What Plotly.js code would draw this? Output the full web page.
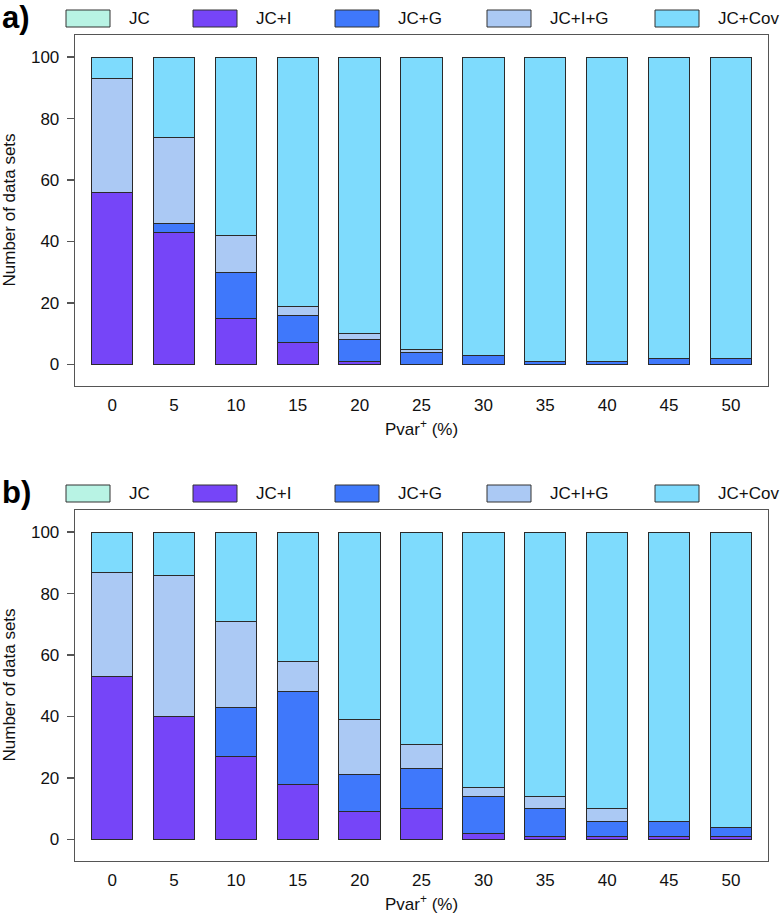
<!DOCTYPE html>
<html>
<head>
<meta charset="utf-8">
<script src="https://cdn.plot.ly/plotly-3.0.1.min.js"></script>
<style>html,body{margin:0;padding:0;background:#fff;}#chart{width:780px;height:917px;}</style>
</head>
<body>
<div id="chart"></div>
<script>
// ---------- data ----------
const categories = ['0','5','10','15','20','25','30','35','40','45','50'];
const seriesNames = ['JC','JC+I','JC+G','JC+I+G','JC+Cov'];
const seriesColors = ['#b8f3e4','#7645f8','#3f78fb','#abc9f4','#7edbfd'];

// panel a
const a_JC     = [0,0,0,0,0,0,0,0,0,0,0];
const a_JCI    = [56,43,15,7,1,0,0,0,0,0,0];
const a_JCG    = [0,3,15,9,7,4,3,1,1,2,2];
const a_JCIG   = [37,28,12,3,2,1,0,0,0,0,0];
const a_JCCov  = [7,26,58,81,90,95,97,99,99,98,98];

// panel b
const b_JC     = [0,0,0,0,0,0,0,0,0,0,0];
const b_JCI    = [53,40,27,18,9,10,2,1,1,1,1];
const b_JCG    = [0,0,16,30,12,13,12,9,5,5,3];
const b_JCIG   = [34,46,28,10,18,8,3,4,4,0,0];
const b_JCCov  = [13,14,29,42,61,69,83,86,90,94,96];

const yTickVals = [0,20,40,60,80,100];
const xTitle = 'Pvar<sup>+</sup> (%)';
const yTitle = 'Number of data sets';
const panelLabels = ['a)','b)'];

// ---------- layout constants ----------
const W = 780, H = 917;
const FONT = 'Liberation Sans, Arial, Helvetica, sans-serif';
const px = v => v / W;
const py = v => 1 - v / H;
const legendBoxX = [66,193,335,487,655];
const legendBoxW = 44;
const legendTextOffset = 61;
const legendTop = [10, 485];
const legendBoxH = 17;
const panelLabelY = [18, 492];
const boxTop = [35, 510];
const boxBottom = [386, 861];
const boxLeft = 75, boxRight = 768;

const panelA = [a_JC, a_JCI, a_JCG, a_JCIG, a_JCCov];
const panelB = [b_JC, b_JCI, b_JCG, b_JCIG, b_JCCov];

const traces = [];
[panelA, panelB].forEach((panel, pi) => {
  panel.forEach((vals, si) => {
    traces.push({
      type: 'bar',
      x: categories,
      y: vals,
      name: seriesNames[si],
      xaxis: pi === 0 ? 'x' : 'x2',
      yaxis: pi === 0 ? 'y' : 'y2',
      marker: {color: seriesColors[si], line: {color: '#2a2a2a', width: 1}},
      showlegend: false,
      hoverinfo: 'x+y+name'
    });
  });
});

const xaxisBase = {
  type: 'category',
  range: [-0.6, 10.6],
  domain: [px(boxLeft), px(boxRight)],
  showline: true, mirror: true, linecolor: '#555', linewidth: 1.3,
  ticks: '', showgrid: false, zeroline: false,
  tickfont: {family: FONT, size: 17, color: '#111'},
  ticklabelstandoff: 3,
  fixedrange: true
};
const yaxisBase = {
  range: [-7, 107.2],
  tickvals: yTickVals,
  showline: true, mirror: true, linecolor: '#555', linewidth: 1.3,
  ticks: 'outside', ticklen: 7, tickcolor: '#555', tickwidth: 1.3,
  showgrid: false, zeroline: false,
  tickfont: {family: FONT, size: 17, color: '#111'},
  ticklabelstandoff: 4,
  fixedrange: true
};

const shapes = [];
const annotations = [];
[0,1].forEach(pi => {
  seriesNames.forEach((nm, si) => {
    shapes.push({
      type: 'rect', xref: 'paper', yref: 'paper',
      x0: px(legendBoxX[si]), x1: px(legendBoxX[si] + legendBoxW),
      y0: py(legendTop[pi] + legendBoxH), y1: py(legendTop[pi]),
      fillcolor: seriesColors[si], line: {color: '#333', width: 1}
    });
    annotations.push({
      xref: 'paper', yref: 'paper',
      x: px(legendBoxX[si] + legendTextOffset), y: py(legendTop[pi] + legendBoxH / 2),
      xanchor: 'left', yanchor: 'middle', showarrow: false,
      text: nm, font: {family: FONT, size: 17, color: '#111'}
    });
  });
  annotations.push({
    xref: 'paper', yref: 'paper',
    x: px(0), y: py(panelLabelY[pi]),
    xanchor: 'left', yanchor: 'middle', showarrow: false,
    text: '<b>' + panelLabels[pi] + '</b>',
    font: {family: FONT, size: 31, color: '#000'}
  });
  // axis titles
  annotations.push({
    xref: 'paper', yref: 'paper',
    x: px((boxLeft + boxRight) / 2), y: py(boxBottom[pi] + 42),
    xanchor: 'center', yanchor: 'middle', showarrow: false,
    text: xTitle, font: {family: FONT, size: 17, color: '#111'}
  });
  annotations.push({
    xref: 'paper', yref: 'paper',
    x: px(9), y: py((boxTop[pi] + boxBottom[pi]) / 2),
    xanchor: 'center', yanchor: 'middle', showarrow: false, textangle: -90,
    text: yTitle, font: {family: FONT, size: 17, color: '#111'}
  });
});

const layout = {
  width: W, height: H,
  margin: {l: 0, r: 0, t: 0, b: 0},
  paper_bgcolor: '#fff', plot_bgcolor: '#fff',
  barmode: 'stack',
  bargap: 0.33,
  showlegend: false,
  xaxis: Object.assign({}, xaxisBase, {anchor: 'y'}),
  yaxis: Object.assign({}, yaxisBase, {anchor: 'x', domain: [py(boxBottom[0]), py(boxTop[0])]}),
  xaxis2: Object.assign({}, xaxisBase, {anchor: 'y2'}),
  yaxis2: Object.assign({}, yaxisBase, {anchor: 'x2', domain: [py(boxBottom[1]), py(boxTop[1])]}),
  shapes: shapes,
  annotations: annotations
};

Plotly.newPlot('chart', traces, layout, {displayModeBar: false, staticPlot: true});
</script>
</body>
</html>
